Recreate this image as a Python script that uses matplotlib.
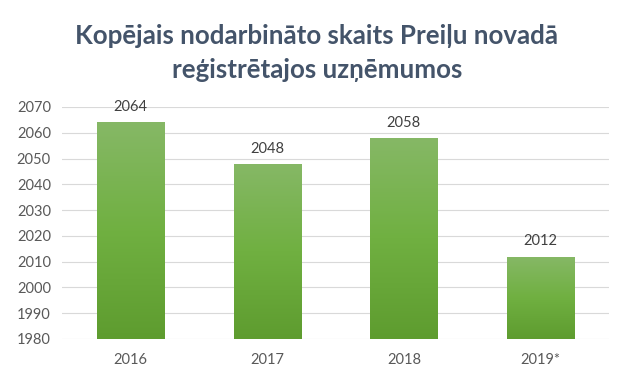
import matplotlib
matplotlib.use("Agg")
import matplotlib.pyplot as plt
import numpy as np
from matplotlib.colors import LinearSegmentedColormap

categories = ["2016", "2017", "2018", "2019*"]
values = [2064, 2048, 2058, 2012]
yticks = [1980, 1990, 2000, 2010, 2020, 2030, 2040, 2050, 2060, 2070]
title_lines = ["Kopējais nodarbināto skaits Preiļu novadā",
               "reģistrētajos uzņēmumos"]

plt.rcParams['font.family'] = ['Lato', 'DejaVu Sans']

fig = plt.figure(figsize=(6.39, 3.82), dpi=100)
ax = fig.add_axes([62 / 639, 1 - 339 / 382, 547 / 639, 232 / 382])

x = np.arange(len(categories))
ymin, ymax = 1980, 2070
ax.set_xlim(-0.5, len(categories) - 0.5)
ax.set_ylim(ymin, ymax)

cmap = LinearSegmentedColormap.from_list("g", ["#5e9c2f", "#70b041", "#86b866"])
grad = np.linspace(0, 1, 256).reshape(-1, 1)
bars = ax.bar(x, [v - ymin for v in values], bottom=ymin, width=0.49,
              color="none", edgecolor="none", zorder=3)
for b in bars:
    bx, by = b.get_x(), b.get_y()
    w, h = b.get_width(), b.get_height()
    im = ax.imshow(grad, cmap=cmap, origin="lower", aspect="auto",
                   extent=[bx, bx + w, by, by + h], zorder=3)
    im.set_clip_path(b)

for xi, v in zip(x, values):
    ax.annotate(str(v), (xi, v), xytext=(0, 8), textcoords="offset points",
                ha="center", va="baseline", fontsize=10.5, color="#404040")

ax.set_yticks(yticks)
ax.set_xticks(x)
ax.set_xticklabels(categories)
ax.grid(axis="y", color="#d9d9d9", linewidth=0.8, zorder=0)
for s in ax.spines.values():
    s.set_visible(False)
ax.tick_params(axis="both", length=0, labelsize=10.5, labelcolor="#595959")
ax.tick_params(axis="x", pad=10)
ax.tick_params(axis="y", pad=8)

fig.text(316.5 / 639, 1 - 44.3 / 382, title_lines[0], ha="center", va="baseline",
         fontsize=18.6, fontweight="bold", color="#44546a")
fig.text(317.5 / 639, 1 - 78.3 / 382, title_lines[1], ha="center", va="baseline",
         fontsize=18.6, fontweight="bold", color="#44546a")

fig.savefig("out.png", dpi=100)
